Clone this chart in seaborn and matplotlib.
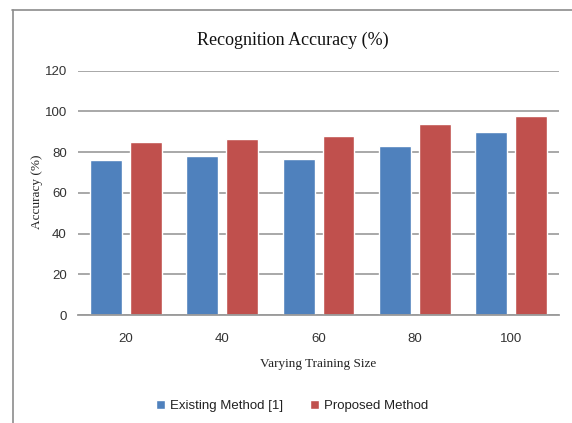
import matplotlib
matplotlib.use("Agg")
import matplotlib.pyplot as plt
import seaborn as sns
import pandas as pd

categories = ["20", "40", "60", "80", "100"]
existing = [76, 78, 76.5, 83, 90]
proposed = [85, 86.5, 88, 94, 97.5]
series_names = ["Existing Method [1]", "Proposed Method"]
y_ticks = [0, 20, 40, 60, 80, 100, 120]

df = pd.DataFrame({
    "size": categories * 2,
    "acc": existing + proposed,
    "method": [series_names[0]] * 5 + [series_names[1]] * 5,
})

sns.set_theme(style="white")
plt.rcParams["font.family"] = ["Liberation Sans Narrow", "Liberation Sans", "DejaVu Sans"]

fig = plt.figure(figsize=(5.72, 4.23), dpi=100)
ax = fig.add_axes([0.1364, 0.2553, 0.9773 - 0.1364, 0.8329 - 0.2553])

palette = {series_names[0]: "#4F81BD", series_names[1]: "#C0504D"}
sns.barplot(data=df, x="size", y="acc", hue="method", order=categories,
            hue_order=series_names, palette=palette, width=0.83, gap=0.2,
            saturation=1, ax=ax, errorbar=None)

ax.set_ylim(0, 120)
ax.set_yticks(y_ticks)
ax.set_xlim(-0.5, 4.5)
ax.yaxis.grid(True, color="#9A9A9A", linewidth=1.2)
ax.set_axisbelow(True)
for s in ["top", "right", "left"]:
    ax.spines[s].set_visible(False)
ax.spines["bottom"].set_color("#9A9A9A")
ax.spines["bottom"].set_linewidth(1.3)
ax.tick_params(axis="y", length=0, labelsize=9.5, colors="#333333", pad=8)
ax.tick_params(axis="x", length=0, labelsize=9.5, colors="#333333", pad=13)

ax.set_xlabel("Varying Training Size", family="Liberation Serif", fontsize=9.5,
              color="#222222", labelpad=9)
ax.set_ylabel("Accuracy (%)", family="Liberation Serif", fontsize=9.5,
              color="#222222")
ax.yaxis.label.set_verticalalignment("center")
ax.yaxis.label.set_horizontalalignment("center")
ax.yaxis.set_label_coords(-0.085, 0.503)

fig.text(0.512, 1 - 40 / 423, "Recognition Accuracy (%)", family="Liberation Serif",
         fontsize=13, ha="center", va="center", color="#111111")

# outer frame (top and left edges visible)
fig.add_artist(plt.Line2D([12 / 572, 1.0], [1 - 10.5 / 423, 1 - 10.5 / 423],
                          transform=fig.transFigure, color="#8C8C8C", linewidth=1.2))
fig.add_artist(plt.Line2D([12.5 / 572, 12.5 / 572], [0, 1 - 10.5 / 423],
                          transform=fig.transFigure, color="#8C8C8C", linewidth=1.2))

leg = ax.legend(loc="center", bbox_to_anchor=(292 / 572, 1 - 406 / 423),
                bbox_transform=fig.transFigure, ncol=2, frameon=False,
                fontsize=9.5, handlelength=0.7, handleheight=0.7,
                handletextpad=0.4, columnspacing=2.0)
for t in leg.get_texts():
    t.set_color("#222222")

fig.savefig("out.png", dpi=100)
